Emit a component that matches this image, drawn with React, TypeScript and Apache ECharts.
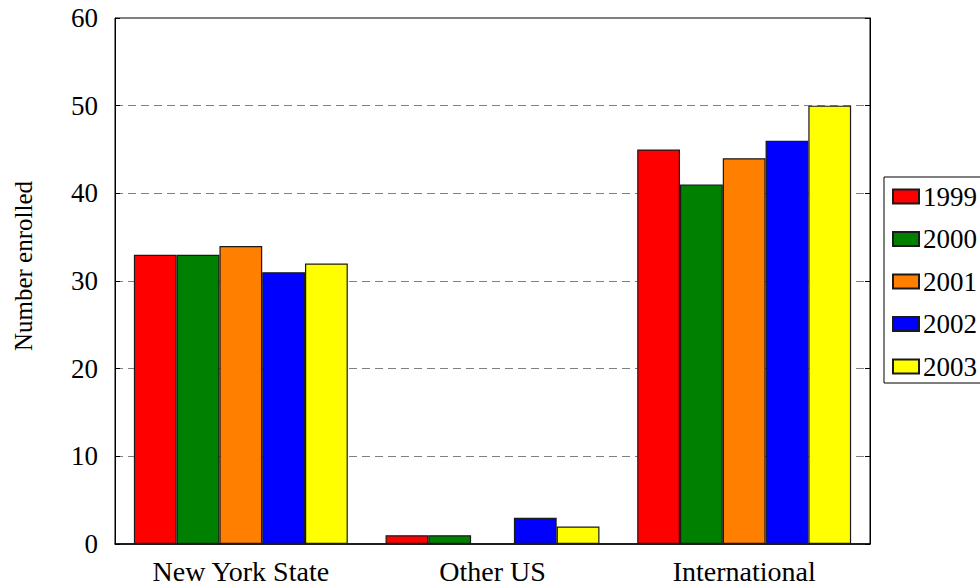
import React, { useEffect, useRef } from "react";
import * as echarts from "echarts";

const categories = ["New York State", "Other US", "International"];
const years = ["1999", "2000", "2001", "2002", "2003"];
const values1999 = [33, 1, 45];
const values2000 = [33, 1, 41];
const values2001 = [34, 0, 44];
const values2002 = [31, 3, 46];
const values2003 = [32, 2, 50];
const colors = ["#ff0000", "#008000", "#ff8000", "#0000ff", "#ffff00"];
const yTicks = [0, 10, 20, 30, 40, 50, 60];

export default function App() {
  const ref = useRef<HTMLDivElement>(null);
  useEffect(() => {
    if (!ref.current) return;
    const chart = echarts.init(ref.current, undefined, { renderer: "svg" });
    const seriesData = [values1999, values2000, values2001, values2002, values2003];
    const font = "'Liberation Serif', 'DejaVu Serif', serif";
    const fs = 27;
    chart.setOption({
      animation: false,
      backgroundColor: "#ffffff",
      textStyle: { fontFamily: font },
      grid: {
        left: 115,
        top: 18,
        width: 755,
        height: 526,
        show: true,
        borderColor: "#000",
        borderWidth: 1,
        backgroundColor: "transparent",
      },
      legend: {
        orient: "vertical",
        left: 884,
        top: 177,
        padding: [6, 60, 3, 8],
        itemGap: 15.5,
        itemWidth: 26,
        itemHeight: 14,
        icon: "rect",
        borderColor: "#000",
        borderWidth: 1,
        textStyle: { fontFamily: font, fontSize: fs, color: "#000", padding: [0, 0, 0, -1] },
        data: years,
      },
      xAxis: {
        type: "category",
        data: categories,
        axisLine: { show: true, lineStyle: { color: "#000", width: 1.5 } },
        axisTick: { show: false },
        axisLabel: { fontFamily: font, fontSize: 28, color: "#000", margin: 13 },
      },
      yAxis: [
        {
          type: "value",
          min: 0,
          max: 60,
          interval: 10,
          axisLine: { show: true, lineStyle: { color: "#000", width: 1 } },
          axisTick: { show: true, inside: true, length: 5, lineStyle: { color: "#000" } },
          axisLabel: {
            fontFamily: font,
            fontSize: fs,
            color: "#000",
            margin: 17,
            formatter: (v: number) => (yTicks.includes(v) ? String(v) : ""),
          },
          splitLine: {
            show: true,
            lineStyle: { color: "#808080", type: [8, 5], width: 1 },
          },
        },
        {
          type: "value",
          position: "right",
          min: 0,
          max: 60,
          interval: 10,
          axisLine: { show: true, lineStyle: { color: "#000", width: 1 } },
          axisTick: { show: true, inside: true, length: 5, lineStyle: { color: "#000" } },
          axisLabel: { show: false },
          splitLine: { show: false },
        },
      ],
      graphic: [
        {
          type: "text",
          x: 23,
          y: 266,
          rotation: Math.PI / 2,
          style: {
            text: "Number enrolled",
            fontFamily: font,
            fontSize: 25,
            fill: "#000",
            align: "center",
            verticalAlign: "middle",
          },
        },
      ],
      series: years.map((y, i) => ({
        name: y,
        type: "bar",
        data: seriesData[i],
        barGap: "0%",
        barCategoryGap: "15%",
        itemStyle: { color: colors[i], borderColor: "#1a1a1a", borderWidth: 1.2 },
      })),
    });
    return () => chart.dispose();
  }, []);
  return (
    <div
      ref={ref}
      style={{ position: "fixed", left: 0, top: 0, width: 980, height: 586 }}
    />
  );
}
